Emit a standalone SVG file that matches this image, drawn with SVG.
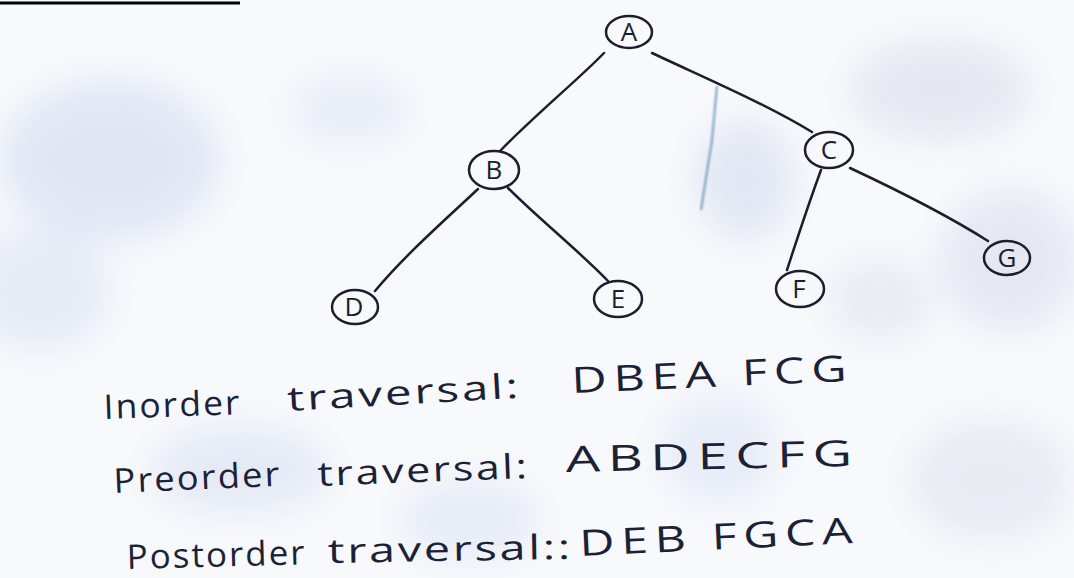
<svg xmlns="http://www.w3.org/2000/svg" width="1074" height="578" viewBox="0 0 1074 578">
  <defs>
    <filter id="wash" x="-30%" y="-30%" width="160%" height="160%">
      <feGaussianBlur stdDeviation="18"/>
    </filter>
    <filter id="soft" x="-10%" y="-10%" width="120%" height="120%">
      <feGaussianBlur stdDeviation="1"/>
    </filter>
    <style>
      .ink { fill: none; stroke: #1a1e2e; stroke-width: 2.5; stroke-linecap: round; }
      .node { fill: none; stroke: #1a1e2e; stroke-width: 2.5; }
      .lbl { font-family: "Open Sans", "Liberation Sans", sans-serif; font-size: 26px; fill: #1a1e2e; text-anchor: middle; }
      .hand { font-family: "Open Sans", "Liberation Sans", sans-serif; font-size: 34px; letter-spacing: 2px; fill: #1c2236; }
      .caps { font-family: "Open Sans", "Liberation Sans", sans-serif; font-size: 36px; letter-spacing: 5px; fill: #1c2236; }
    </style>
  </defs>

  <!-- paper -->
  <rect width="1074" height="578" fill="#f8f9fc"/>
  <g id="paper-wash" filter="url(#wash)" opacity="0.5">
    <ellipse cx="110" cy="160" rx="110" ry="80" fill="#c9d4ec"/>
    <ellipse cx="40" cy="290" rx="70" ry="60" fill="#d3dcef"/>
    <ellipse cx="350" cy="110" rx="60" ry="35" fill="#d9e1f1"/>
    <ellipse cx="745" cy="180" rx="50" ry="60" fill="#cdd5ea"/>
    <ellipse cx="940" cy="90" rx="90" ry="50" fill="#d6d5e6"/>
    <ellipse cx="1010" cy="260" rx="70" ry="70" fill="#d4d6e8"/>
    <ellipse cx="880" cy="300" rx="50" ry="40" fill="#dcdcea"/>
    <ellipse cx="240" cy="470" rx="90" ry="45" fill="#d2dbef"/>
    <ellipse cx="470" cy="520" rx="70" ry="40" fill="#d6def1"/>
    <ellipse cx="720" cy="450" rx="60" ry="55" fill="#d8e0f1"/>
    <ellipse cx="990" cy="480" rx="80" ry="60" fill="#dcdcea"/>
  </g>
  <!-- bleed-through stroke on the page -->
  <path d="M717 86 L712 140 L701 210" fill="none" stroke="#4f86b3" stroke-width="2" opacity="0.8" filter="url(#soft)"/>

  <!-- heading underline -->
  <line x1="0" y1="3" x2="240" y2="3" stroke="#000" stroke-width="3"/>

  <!-- tree edges -->
  <g id="edges" class="ink">
    <path d="M604 53 C580 78 535 115 500 151"/>
    <path d="M652 53 C705 78 762 102 812 132"/>
    <path d="M478 189 C445 220 405 255 375 291"/>
    <path d="M508 188 C540 220 578 250 608 281"/>
    <path d="M821 170 C810 200 798 236 787 270"/>
    <path d="M850 168 C897 190 947 215 988 241"/>
  </g>

  <!-- tree nodes -->
  <g id="node-A"><ellipse class="node" cx="629" cy="32" rx="23" ry="16"/><text class="lbl" x="629" y="41">A</text></g>
  <g id="node-B"><ellipse class="node" cx="494" cy="170" rx="25" ry="19"/><text class="lbl" x="494" y="179">B</text></g>
  <g id="node-C"><ellipse class="node" cx="829" cy="150" rx="24" ry="18"/><text class="lbl" x="829" y="159">C</text></g>
  <g id="node-D"><ellipse class="node" cx="355" cy="307" rx="23" ry="17"/><text class="lbl" x="354" y="316">D</text></g>
  <g id="node-E"><ellipse class="node" cx="618" cy="299" rx="24" ry="18"/><text class="lbl" x="618" y="308">E</text></g>
  <g id="node-F"><ellipse class="node" cx="800" cy="289" rx="24" ry="18"/><text class="lbl" x="799" y="298">F</text></g>
  <g id="node-G"><ellipse class="node" cx="1007" cy="258" rx="23" ry="17"/><text class="lbl" x="1007" y="267">G</text></g>

  <!-- traversal results -->
  <g id="inorder">
    <text class="hand" x="104" y="419" textLength="138" lengthAdjust="spacingAndGlyphs" transform="rotate(-2 104 419)">Inorder</text>
    <text class="hand" x="288" y="411" textLength="234" lengthAdjust="spacingAndGlyphs" transform="rotate(-3.3 288 411)">traversal:</text>
    <text class="caps" x="572" y="393" textLength="282" lengthAdjust="spacingAndGlyphs" transform="rotate(-2.5 572 393)">DBEA FCG</text>
  </g>
  <g id="preorder">
    <text class="hand" x="114" y="493" textLength="168" lengthAdjust="spacingAndGlyphs" transform="rotate(-2.5 114 493)">Preorder</text>
    <text class="hand" x="318" y="486" textLength="212" lengthAdjust="spacingAndGlyphs" transform="rotate(-2.2 318 486)">traversal:</text>
    <text class="caps" x="566" y="472" textLength="294" lengthAdjust="spacingAndGlyphs" transform="rotate(-1.2 566 472)">ABDECFG</text>
  </g>
  <g id="postorder">
    <text class="hand" x="127" y="569" textLength="180" lengthAdjust="spacingAndGlyphs" transform="rotate(-1.5 127 569)">Postorder</text>
    <text class="hand" x="328" y="563" textLength="245" lengthAdjust="spacingAndGlyphs" transform="rotate(-1 328 563)">traversal::</text>
    <text class="caps" x="580" y="556" textLength="280" lengthAdjust="spacingAndGlyphs" transform="rotate(-2.7 580 556)">DEB FGCA</text>
  </g>
</svg>
